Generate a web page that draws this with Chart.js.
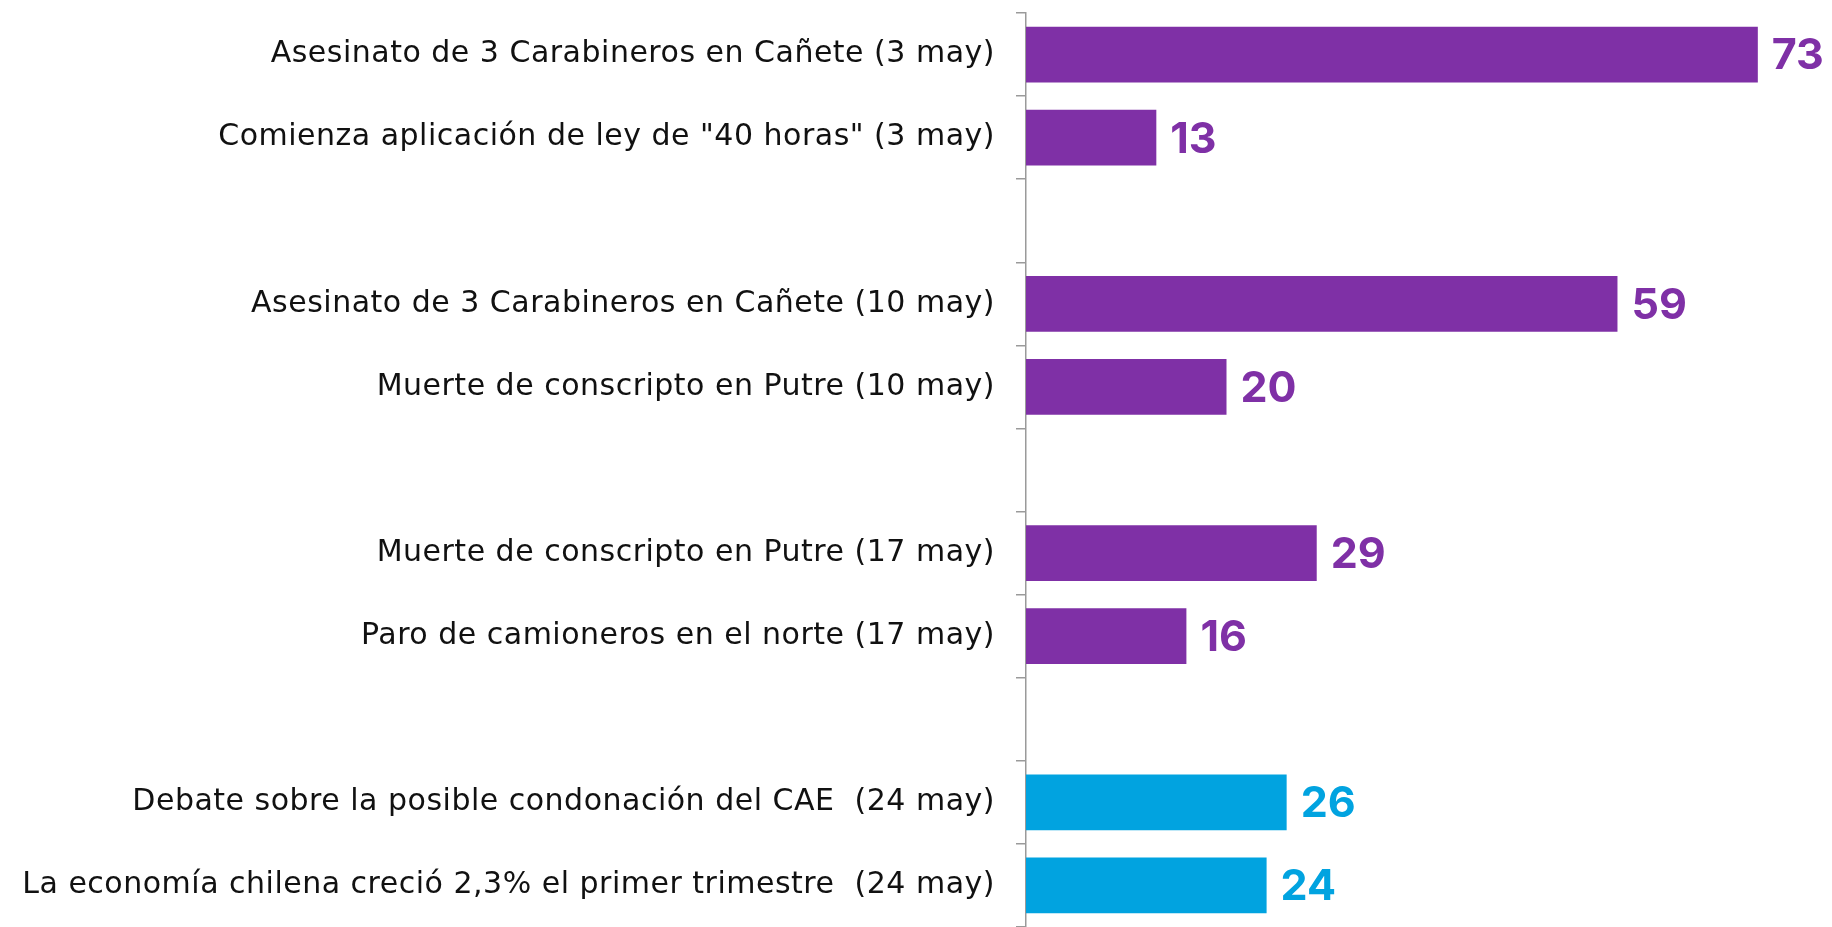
<!DOCTYPE html>
<html>
<head>
<meta charset="utf-8">
<script src="https://cdn.jsdelivr.net/npm/chart.js@4/dist/chart.umd.min.js"></script>
<style>
  html, body { margin: 0; padding: 0; background: #fff; }
  #wrap { width: 1832px; height: 927px; position: relative; }
</style>
</head>
<body>
<div id="wrap"><canvas id="grafico"></canvas></div>
<script>
// --- Datos ---
const eventos = [
    'Asesinato de 3 Carabineros en Cañete (3 may)',
    'Comienza aplicación de ley de "40 horas" (3 may)',
    '',
    'Asesinato de 3 Carabineros en Cañete (10 may)',
    'Muerte de conscripto en Putre (10 may)',
    '',
    'Muerte de conscripto en Putre (17 may)',
    'Paro de camioneros en el norte (17 may)',
    '',
    'Debate sobre la posible condonación del CAE  (24 may)',
    'La economía chilena creció 2,3% el primer trimestre  (24 may)'
];
const semanas = ['3 may', '3 may', null, '10 may', '10 may', null, '17 may', '17 may', null, '24 may', '24 may'];
const valores = [73, 13, null, 59, 20, null, 29, 16, null, 26, 24];

// --- Estilos ---
const MORADO = '#7f30a6';
const AZUL = '#01a3e0';
const colorDe = (i) => semanas[i] === '24 may' ? AZUL : MORADO;

// Un poco de espaciado entre letras para las etiquetas del eje (más anchas en el original)
const espaciado = {
    id: 'espaciado',
    beforeDraw(chart) { chart.ctx.letterSpacing = '0.5px'; },
    beforeDatasetsDraw(chart) { chart.ctx.letterSpacing = '0px'; }
};

// Plugin para escribir el valor al final de cada barra
const etiquetasValor = {
    id: 'etiquetasValor',
    afterDatasetsDraw(chart) {
        const { ctx } = chart;
        const meta = chart.getDatasetMeta(0);
        ctx.save();
        ctx.font = 'bold 43px Inter, "Open Sans", sans-serif';
        ctx.textAlign = 'left';
        ctx.textBaseline = 'middle';
        meta.data.forEach((bar, i) => {
            if (valores[i] == null) return;
            ctx.fillStyle = colorDe(i);
            ctx.fillText(String(valores[i]), bar.x + 14, bar.y + 2);
        });
        ctx.restore();
    }
};

const ctx = document.getElementById('grafico').getContext('2d');
new Chart(ctx, {
    type: 'bar',
    data: {
        labels: eventos,
        datasets: [{
            data: valores,
            backgroundColor: (c) => colorDe(c.dataIndex),
            borderWidth: 0,
            categoryPercentage: 1,
            barPercentage: 0.67
        }]
    },
    options: {
        indexAxis: 'y',
        responsive: true,
        maintainAspectRatio: false,
        animation: false,
        layout: { padding: { top: 13, right: 4, bottom: 0, left: 0 } },
        plugins: {
            legend: { display: false },
            tooltip: { enabled: false }
        },
        scales: {
            x: {
                display: false,
                min: 0,
                max: 80
            },
            y: {
                offset: true,
                afterFit: (s) => {
                    s.width = 1026;
                    s.paddingTop = 0;
                    s.paddingBottom = 0;
                },
                grid: {
                    offset: true,
                    drawOnChartArea: false,
                    drawTicks: true,
                    tickLength: 10,
                    color: '#9a9a9a',
                    lineWidth: 1.5
                },
                border: { display: true, color: '#9a9a9a', width: 1.5 },
                ticks: {
                    color: '#111',
                    padding: 21,
                    font: { family: '"DejaVu Sans", sans-serif', size: 30 }
                }
            }
        }
    },
    plugins: [espaciado, etiquetasValor]
});
</script>
</body>
</html>
